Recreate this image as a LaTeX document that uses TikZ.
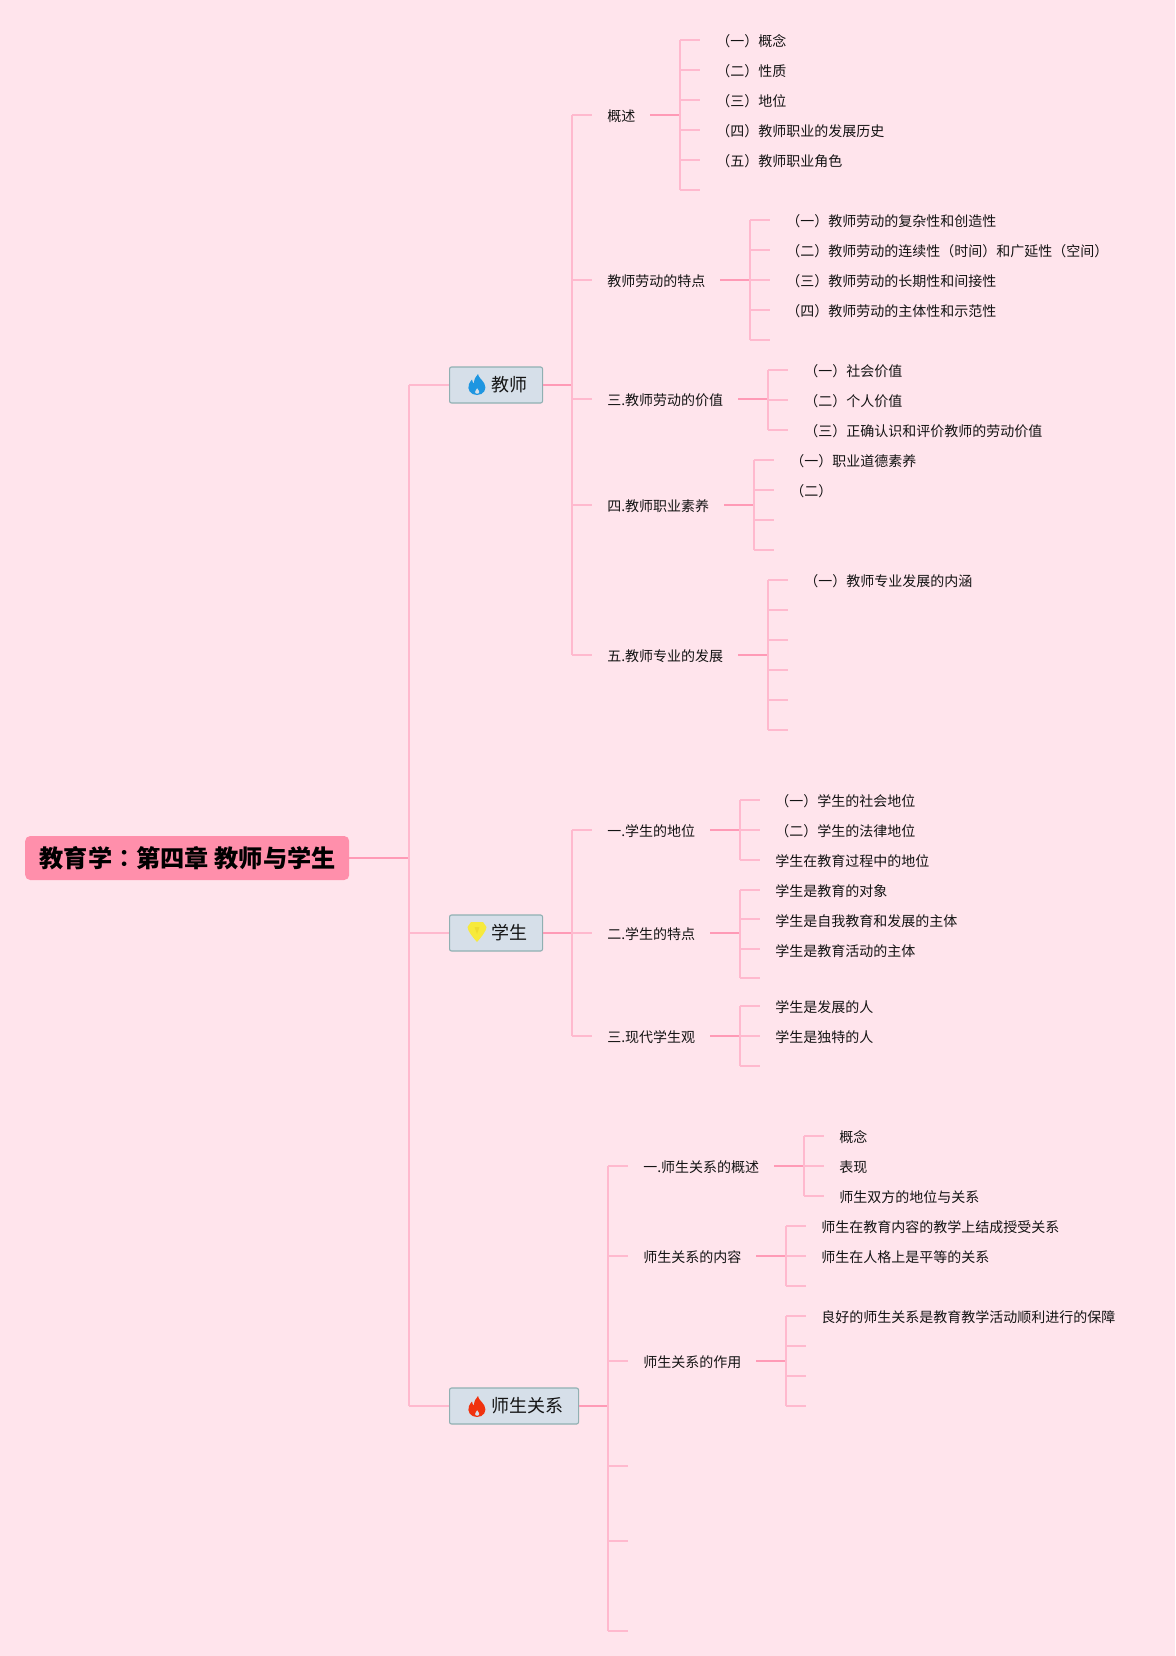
\documentclass[tikz,border=0pt]{standalone}
\usepackage{fontspec}
\setmainfont{Noto Sans CJK SC}
\newfontfamily\tcfont{Noto Sans CJK TC}[BoldFont={* Bold}]
\definecolor{bgpink}{HTML}{FFE4EC}
\definecolor{linelight}{HTML}{FFB9CE}
\definecolor{linedark}{HTML}{FF9AB6}
\definecolor{rootfill}{HTML}{FF8FAB}
\definecolor{boxfill}{HTML}{D6DFE9}
\definecolor{boxline}{HTML}{90B0B2}
\definecolor{txt}{HTML}{141414}
\definecolor{flameblue}{HTML}{1E96E1}
\definecolor{flamered}{HTML}{F0320F}
\definecolor{gemyellow}{HTML}{F7EA3C}
\definecolor{gemdark}{HTML}{EFDC30}
\tikzset{
  x=1pt,y=-1pt,
  leaf/.style={anchor=west,inner sep=0pt,xshift=0.1pt,yshift=-0.3pt,font=\fontsize{14}{14}\selectfont,text=txt},
  topic/.style={draw=boxline,fill=boxfill,line width=1.1pt,rounded corners=2pt,minimum height=36pt,inner sep=0pt,anchor=west,font=\fontsize{18}{18}\selectfont,text=txt},
  rootbox/.style={fill=rootfill,rounded corners=5pt,minimum width=324pt,minimum height=44pt,inner sep=0pt,font=\fontsize{24.2}{24}\bfseries\selectfont,text=black},
  lo/.style={draw=linelight,line width=1.6pt,xshift=0.4pt},
  hi/.style={draw=linedark,line width=1.8pt,xshift=0.4pt},
}
% \fan{parent}{line start x}{branch x}{stub end x}{y list}{stem y}
\newcommand{\fan}[6]{%
  \coordinate (#1-s) at (#2,#6);
  \coordinate (#1-b) at (#3,#6);
  \draw[hi] (#1-s) -- (#1-b);
  \foreach \yy [count=\ii] in {#5}{
    \coordinate (#1-k\ii) at (#3,\yy);
    \coordinate (#1-e\ii) at (#4,\yy);
    \draw[lo] (#1-k\ii) -- (#1-e\ii);
  }
}
\newcommand{\flameicon}[4]{% x y scale colour
  \fill[#4,even odd rule,shift={(#1,#2)},x=#3pt,y=-#3pt]
    (10,0) .. controls (10.5,3.5) and (14,5.5) .. (16.3,9.5)
    .. controls (19.5,15) and (15.5,21) .. (9,21)
    .. controls (2.5,21) and (-1.2,15.5) .. (1,10)
    .. controls (1.8,8) and (3,6.8) .. (4,5.5)
    .. controls (4.3,7.5) and (4.8,8.6) .. (6,9.4)
    .. controls (6,5.5) and (7.5,2.5) .. (10,0) -- cycle
    (9.2,14) .. controls (8.6,15.5) and (7,16.2) .. (7,18)
    .. controls (7,19.2) and (8,19.8) .. (9.2,19.8)
    .. controls (10.4,19.8) and (11.4,19.1) .. (11.4,18)
    .. controls (11.4,16.4) and (9.8,15.5) .. (9.2,14) -- cycle;
}
\begin{document}
\begin{tikzpicture}
\useasboundingbox (0,0) rectangle (1175,1656);
\fill[bgpink] (0,0) rectangle (1175,1656);

% root and main topics
\node[rootbox,anchor=west] (root) at (25,858) {\raisebox{-1.5pt}{\hspace{1pt}教育学{\tcfont\bfseries：}第四章 教师与学生}};
\node[topic,minimum width=93pt] (t1) at (449,385) {\hspace{27.5pt}教师};
\node[topic,minimum width=93pt] (t2) at (449,933) {\hspace{27.5pt}学生};
\node[topic,minimum width=129pt] (t3) at (449,1406) {\hspace{27.5pt}师生关系};

\flameicon{468}{374}{1}{flameblue}
\fill[gemyellow,shift={(467.5,922)}]
  (3.5,0) -- (15.5,0) -- (19,5) .. controls (19,9) and (13,16) .. (9.5,20)
  .. controls (6,16) and (0,9) .. (0,5) -- cycle;
\fill[gemdark,shift={(467.5,922)}] (7,5) -- (12,5) -- (9.5,12) -- cycle;
\flameicon{468}{1396}{1}{flamered}

% root connectors
\coordinate (mainb) at (409,858);
\coordinate (m1) at (409,385);
\coordinate (m2) at (409,933);
\coordinate (m3) at (409,1406);
\draw[hi] (root.east) -- (mainb);
\draw[lo] (m1) -- (m3);
\draw[lo] (m1) -- (t1.west);
\draw[lo] (m2) -- (t2.west);
\draw[lo] (m3) -- (t3.west);

% ---- teacher ----
\coordinate (s1) at (572,385);
\draw[hi] (t1.east) -- (s1);
\node[leaf] (a1) at (607,116) {概述};
\node[leaf] (a2) at (607,281) {教师劳动的特点};
\node[leaf] (a3) at (607,400) {三.教师劳动的价值};
\node[leaf] (a4) at (607,506) {四.教师职业素养};
\node[leaf] (a5) at (607,656) {五.教师专业的发展};
\foreach \n/\yy in {1/115,2/280,3/399,4/505,5/655}{
  \coordinate (sa\n) at (572,\yy);
  \coordinate (ea\n) at (592,\yy);
  \draw[lo] (sa\n) -- (ea\n);
}
\draw[lo] (sa1) -- (sa5);

\fan{a1}{650}{680}{700}{40,70,100,130,160,190}{115}
\fan{a2}{720}{750}{770}{220,250,280,310,340}{280}
\fan{a3}{738}{768}{788}{370,400,430}{399}
\fan{a4}{724}{754}{774}{460,490,520,550}{505}
\fan{a5}{738}{768}{788}{580,610,640,670,700,730}{655}
\draw[lo] (a1-k1) -- (a1-k6);
\draw[lo] (a2-k1) -- (a2-k5);
\draw[lo] (a3-k1) -- (a3-k3);
\draw[lo] (a4-k1) -- (a4-k4);
\draw[lo] (a5-k1) -- (a5-k6);

\node[leaf] (a11) at (716,41) {（一）概念};
\node[leaf] (a12) at (716,71) {（二）性质};
\node[leaf] (a13) at (716,101) {（三）地位};
\node[leaf] (a14) at (716,131) {（四）教师职业的发展历史};
\node[leaf] (a15) at (716,161) {（五）教师职业角色};
\node[leaf] (a21) at (786,221) {（一）教师劳动的复杂性和创造性};
\node[leaf] (a22) at (786,251) {（二）教师劳动的连续性（时间）和广延性（空间）};
\node[leaf] (a23) at (786,281) {（三）教师劳动的长期性和间接性};
\node[leaf] (a24) at (786,311) {（四）教师劳动的主体性和示范性};
\node[leaf] (a31) at (804,371) {（一）社会价值};
\node[leaf] (a32) at (804,401) {（二）个人价值};
\node[leaf] (a33) at (804,431) {（三）正确认识和评价教师的劳动价值};
\node[leaf] (a41) at (790,461) {（一）职业道德素养};
\node[leaf] (a42) at (790,491) {（二）};
\node[leaf] (a51) at (804,581) {（一）教师专业发展的内涵};

% ---- student ----
\coordinate (s2) at (572,933);
\draw[hi] (t2.east) -- (s2);
\node[leaf] (b1) at (607,831) {一.学生的地位};
\node[leaf] (b2) at (607,934) {二.学生的特点};
\node[leaf] (b3) at (607,1037) {三.现代学生观};
\foreach \n/\yy in {1/830,2/933,3/1036}{
  \coordinate (sb\n) at (572,\yy);
  \coordinate (eb\n) at (592,\yy);
  \draw[lo] (sb\n) -- (eb\n);
}
\draw[lo] (sb1) -- (sb3);

\fan{b1}{710}{740}{760}{800,830,860}{830}
\fan{b2}{710}{740}{760}{890,919,949,978}{933}
\fan{b3}{710}{740}{760}{1006,1036,1066}{1036}
\draw[lo] (b1-k1) -- (b1-k3);
\draw[lo] (b2-k1) -- (b2-k4);
\draw[lo] (b3-k1) -- (b3-k3);

\node[leaf] (b11) at (775,801) {（一）学生的社会地位};
\node[leaf] (b12) at (775,831) {（二）学生的法律地位};
\node[leaf] (b13) at (775,861) {学生在教育过程中的地位};
\node[leaf] (b21) at (775,891) {学生是教育的对象};
\node[leaf] (b22) at (775,921) {学生是自我教育和发展的主体};
\node[leaf] (b23) at (775,951) {学生是教育活动的主体};
\node[leaf] (b31) at (775,1007) {学生是发展的人};
\node[leaf] (b32) at (775,1037) {学生是独特的人};

% ---- relation ----
\coordinate (s3) at (608,1406);
\draw[hi] (t3.east) -- (s3);
\node[leaf] (c1) at (643,1167) {一.师生关系的概述};
\node[leaf] (c2) at (643,1257) {师生关系的内容};
\node[leaf] (c3) at (643,1362) {师生关系的作用};
\foreach \n/\yy in {1/1166,2/1256,3/1361,4/1466,5/1541,6/1631}{
  \coordinate (sc\n) at (608,\yy);
  \coordinate (ec\n) at (628,\yy);
  \draw[lo] (sc\n) -- (ec\n);
}
\draw[lo] (sc1) -- (sc6);

\fan{c1}{774}{804}{824}{1136,1166,1196}{1166}
\fan{c2}{756}{786}{806}{1226,1256,1286}{1256}
\fan{c3}{756}{786}{806}{1316,1346,1376,1406}{1361}
\draw[lo] (c1-k1) -- (c1-k3);
\draw[lo] (c2-k1) -- (c2-k3);
\draw[lo] (c3-k1) -- (c3-k4);

\node[leaf] (c11) at (839,1137) {概念};
\node[leaf] (c12) at (839,1167) {表现};
\node[leaf] (c13) at (839,1197) {师生双方的地位与关系};
\node[leaf] (c21) at (821,1227) {师生在教育内容的教学上结成授受关系};
\node[leaf] (c22) at (821,1257) {师生在人格上是平等的关系};
\node[leaf] (c31) at (821,1317) {良好的师生关系是教育教学活动顺利进行的保障};
\end{tikzpicture}
\end{document}
